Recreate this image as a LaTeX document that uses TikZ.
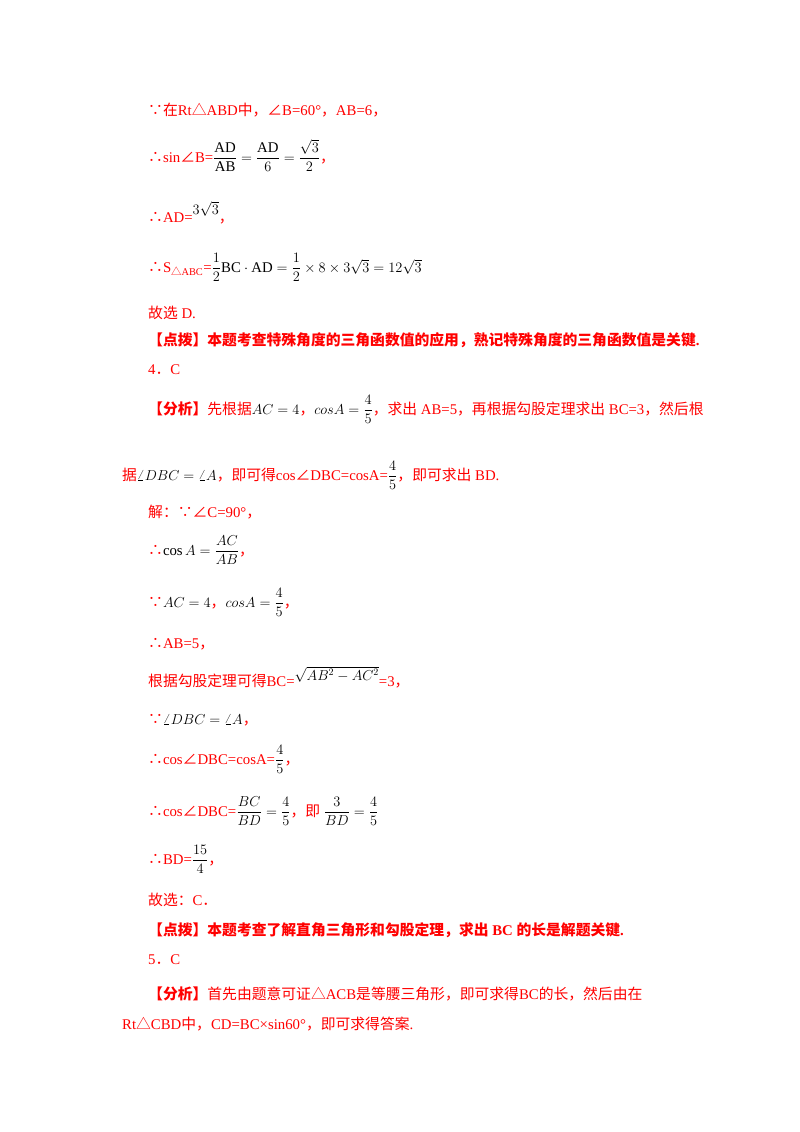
\documentclass[tikz,border=0pt]{standalone}
\usepackage{amsmath}
\usepackage{fontspec}
\setmainfont{Liberation Serif}
\newfontfamily\zh{Noto Sans CJK SC}
\newcommand\Z[1]{{\zh #1}}
\newcommand\K[1]{\textcolor{black}{#1}}
\begin{document}
\begin{tikzpicture}[x=1pt,y=-1pt,
  t/.style={anchor=base west,inner sep=0,text=red,font=\fontsize{14.8}{17}\selectfont},
  tb/.style={t,font=\fontsize{14.8}{17}\selectfont\bfseries}]
\useasboundingbox (0,0) rectangle (800,1132);
\node[t] (l1) at (148,115) {\Z{∵在}Rt\Z{△}ABD\Z{中，∠}B=60°\Z{，}AB=6\Z{，}};
\node[t] (l2) at (148,162) {\Z{∴}sin\Z{∠}B=\K{$\dfrac{\mathrm{AD}}{\mathrm{AB}}=\dfrac{\mathrm{AD}}{6}=\dfrac{\sqrt3}{2}$}\Z{，}};
\node[t] (l3) at (148,222) {\Z{∴}AD=\raisebox{8pt}{\K{$3\sqrt3$}}\Z{，}};
\node[t] (l4) at (148,272) {\Z{∴}S\textsubscript{\Z{△}ABC}=\K{$\dfrac12\mathrm{BC}\cdot\mathrm{AD}=\dfrac12\times8\times3\sqrt3=12\sqrt3$}};
\node[t] (l5) at (148,318) {\Z{故选} D.};
\node[tb] (l6) at (148,345) {\Z{\bfseries【点拨】本题考查特殊角度的三角函数值的应用，熟记特殊角度的三角函数值是关键}.};
\node[t] (l7) at (148,374) {4\Z{．}C};
\node[t] (l8) at (148,414) {\Z{\bfseries【分析】}\Z{先根据}\K{$AC=4$}\Z{，}\K{$cosA=\dfrac45$}\Z{，求出} AB=5\Z{，再根据勾股定理求出} BC=3\Z{，然后根}};
\node[t] (l9) at (122,480) {\Z{据}\K{$\angle DBC=\angle A$}\Z{，即可得}cos\Z{∠}DBC=cosA=\K{$\dfrac45$}\Z{，即可求出} BD.};
\node[t] (l10) at (148,517) {\Z{解：∵∠}C=90°\Z{，}};
\node[t] (l11) at (148,555) {\Z{∴}\K{$\cos A=\dfrac{AC}{AB}$}\Z{，}};
\node[t] (l12) at (148,607) {\Z{∵}\K{$AC=4$}\Z{，}\K{$cosA=\dfrac45$}\Z{，}};
\node[t] (l13) at (148,648) {\Z{∴}AB=5\Z{，}};
\node[t] (l14) at (148,686) {\Z{根据勾股定理可得}BC=\raisebox{6pt}{\K{$\sqrt{AB^2-AC^2}$}}=3\Z{，}};
\node[t] (l15) at (148,724) {\Z{∵}\K{$\angle DBC=\angle A$}\Z{，}};
\node[t] (l16) at (148,764) {\Z{∴}cos\Z{∠}DBC=cosA=\K{$\dfrac45$}\Z{，}};
\node[t] (l17) at (148,816) {\Z{∴}cos\Z{∠}DBC=\K{$\dfrac{BC}{BD}=\dfrac45$}\Z{，即} \K{$\dfrac{3}{BD}=\dfrac45$}};
\node[t] (l18) at (148,864) {\Z{∴}BD=\K{$\dfrac{15}{4}$}\Z{，}};
\node[t] (l19) at (148,905) {\Z{故选：}C\Z{．}};
\node[tb] (l20) at (148,935) {\Z{\bfseries【点拨】本题考查了解直角三角形和勾股定理，求出} BC \Z{\bfseries 的长是解题关键}.};
\node[t] (l21) at (148,964) {5\Z{．}C};
\node[t] (l22) at (148,999) {\Z{\bfseries【分析】}\Z{首先由题意可证△}ACB\Z{是等腰三角形，即可求得}BC\Z{的长，然后由在}};
\node[t] (l23) at (122,1029) {Rt\Z{△}CBD\Z{中，}CD=BC×sin60°\Z{，即可求得答案}.};
\end{tikzpicture}
\end{document}
